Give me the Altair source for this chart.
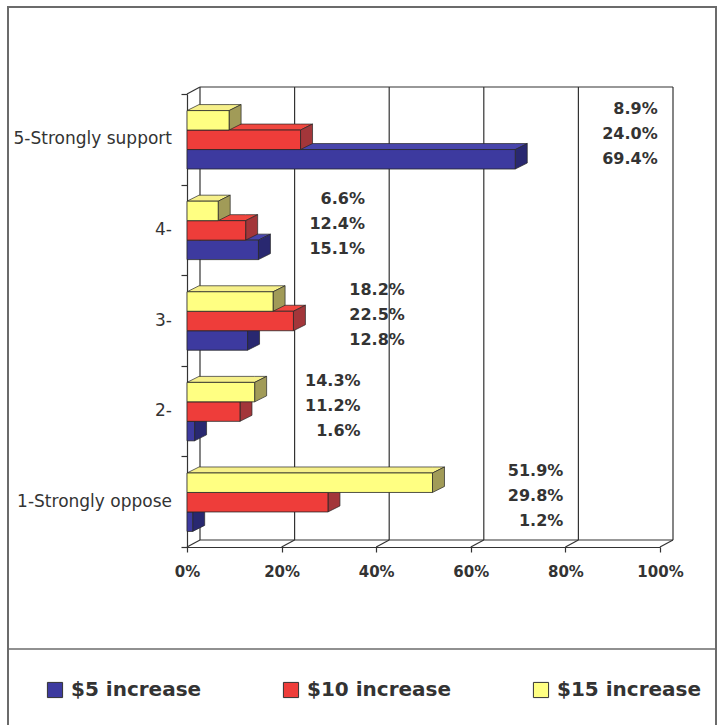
import json
import altair as alt
import pandas as pd

# ---------------- data ----------------
categories = ["5-Strongly support", "4-", "3-", "2-", "1-Strongly oppose"]
series = ["$5 increase", "$10 increase", "$15 increase"]
inc5 = [69.4, 15.1, 12.8, 1.6, 1.2]
inc10 = [24.0, 12.4, 22.5, 11.2, 29.8]
inc15 = [8.9, 6.6, 18.2, 14.3, 51.9]
x_ticks = [0, 20, 40, 60, 80, 100]

# ---------------- style ----------------
front_colors = ["#3D3A9F", "#EE3D3A", "#FFFF82"]
top_colors = ["#4845AC", "#F0473F", "#F6F08A"]
side_colors = ["#292870", "#A3363A", "#A19B58"]
EDGE = "#262626"
TXT = "#333333"
FONT = "DejaVu Sans"

W, H = 473, 453
DEPTH_PX_X, DEPTH_PX_Y = 12, 6      # bar depth
WALL_PX_X, WALL_PX_Y = 13, -7       # back wall offset
DX = DEPTH_PX_X * 100 / W           # depth in x units
DY = DEPTH_PX_Y * 5 / H             # depth in y units
BAR_BASE, BAR_FRAC = 0.172, 0.215
LABEL_SLOPE, LABEL_SHIFT = 1.14, 20.4
LABEL_MID, LABEL_STEP = 0.56, 0.276

rows = []
for ci, cat in enumerate(categories):
    for si, vals in enumerate([inc5, inc10, inc15]):
        rows.append({"category": cat, "k": len(categories) - 1 - ci, "s": si,
                     "series": series[si], "value": vals[ci], "bar": f"{ci}-{si}"})
df = pd.DataFrame(rows)
cat_df = pd.DataFrame({"category": categories,
                       "k": [len(categories) - 1 - i for i in range(len(categories))]})

xscale = alt.Scale(domain=[0, 100], nice=False)
yscale = alt.Scale(domain=[0, 5], nice=False)

X_AXIS = alt.Axis(values=x_ticks, labelExpr="datum.value + '%'", grid=False, title=None,
                  tickSize=5, tickColor=TXT, tickWidth=1.2, domainColor=TXT,
                  domainWidth=1.2, labelFont=FONT, labelFontSize=15, labelFlush=False,
                  labelFontWeight="bold", labelColor=TXT, labelPadding=12)
Y_AXIS = alt.Axis(values=[0, 1, 2, 3, 4, 5], labels=False, grid=False, title=None,
                  tickSize=6, tickColor=TXT, tickWidth=1.2, domainColor=TXT,
                  domainWidth=1.2)


def xq(field):
    return alt.X(field, scale=xscale, axis=X_AXIS)


def yq(field, **kw):
    return alt.Y(field, scale=yscale, axis=Y_AXIS, **kw)


# back wall & floor
tick_df = pd.DataFrame({"t": x_ticks})
wall_color = "#333333"
walls = alt.Chart(tick_df).transform_calculate(lo="0", hi="5", xmin="0", xmax="100")
back_grid = walls.mark_rule(color=wall_color, strokeWidth=1.2,
                            xOffset=WALL_PX_X, yOffset=WALL_PX_Y,
                            y2Offset=WALL_PX_Y).encode(
    x=xq("t:Q"), y=yq("lo:Q"), y2="hi:Q")
floor_diag = walls.mark_rule(color=wall_color, strokeWidth=1.2,
                             x2Offset=WALL_PX_X, y2Offset=WALL_PX_Y).encode(
    x=xq("t:Q"), x2="t:Q", y=yq("lo:Q"), y2="lo:Q")
top_diag = walls.transform_filter("datum.t == 0").mark_rule(
    color=wall_color, strokeWidth=1.2, x2Offset=WALL_PX_X, y2Offset=WALL_PX_Y).encode(
    x=xq("t:Q"), x2="t:Q", y=yq("hi:Q"), y2="hi:Q")
top_edge = walls.transform_filter("datum.t == 0").mark_rule(
    color=wall_color, strokeWidth=1.2, xOffset=WALL_PX_X, x2Offset=WALL_PX_X,
    yOffset=WALL_PX_Y).encode(
    x=xq("xmin:Q"), x2="xmax:Q", y=yq("hi:Q"))
floor_edge = walls.transform_filter("datum.t == 0").mark_rule(
    color=wall_color, strokeWidth=1.2, xOffset=WALL_PX_X, x2Offset=WALL_PX_X,
    yOffset=WALL_PX_Y).encode(
    x=xq("xmin:Q"), x2="xmax:Q", y=yq("lo:Q"))

base = alt.Chart(df).transform_calculate(
    bottom=f"datum.k + {BAR_BASE} + datum.s * {BAR_FRAC}",
    top=f"datum.k + {BAR_BASE} + (datum.s + 1) * {BAR_FRAC}",
    zero="0",
)

# top faces (parallelograms)
top_faces = base.transform_calculate(
    p0="0", p1=f"{DX}", p2="datum.value", p3=f"datum.value + {DX}",
    fillc=f"{json.dumps(top_colors)}[datum.s]",
).transform_fold(["p0", "p1", "p2", "p3"], as_=["corner", "pts"]).transform_calculate(
    ylow=f"datum.pts <= datum.value ? datum.top : datum.top + {DY} * (datum.pts - datum.value) / {DX}",
    yhigh=f"datum.pts >= {DX} ? datum.top + {DY} : datum.top + {DY} * datum.pts / {DX}",
).mark_area(stroke=EDGE, strokeWidth=0.7).encode(
    x=xq("pts:Q"),
    y=yq("ylow:Q", stack=None),
    y2="yhigh:Q",
    detail="bar:N",
    fill=alt.Fill("fillc:N", scale=None),
)

# side faces
side_faces = base.transform_calculate(
    p0="datum.value", p1=f"datum.value + {DX}",
    fillc=f"{json.dumps(side_colors)}[datum.s]",
).transform_fold(["p0", "p1"], as_=["corner", "pts"]).transform_calculate(
    ylow=f"datum.bottom + {DY} * (datum.pts - datum.value) / {DX}",
    yhigh=f"datum.top + {DY} * (datum.pts - datum.value) / {DX}",
).mark_area(stroke=EDGE, strokeWidth=0.7).encode(
    x=xq("pts:Q"),
    y=yq("ylow:Q", stack=None),
    y2="yhigh:Q",
    detail="bar:N",
    fill=alt.Fill("fillc:N", scale=None),
)

front = base.mark_rect(stroke=EDGE, strokeWidth=0.8).encode(
    x=xq("value:Q"),
    x2="zero:Q",
    y=yq("bottom:Q"),
    y2="top:Q",
    color=alt.Color("series:N", scale=alt.Scale(domain=series, range=front_colors),
                    legend=alt.Legend(title=None, orient="none", legendX=-142, legendY=586,
                                      direction="horizontal", columns=3, columnPadding=79,
                                      symbolType="square", symbolSize=230,
                                      symbolStrokeColor="#333", symbolStrokeWidth=1,
                                      labelFont=FONT, labelFontSize=20, labelFontWeight="bold",
                                      labelColor=TXT, labelOffset=6, padding=0)),
)

# category labels at band centres
cat_labels = alt.Chart(cat_df).transform_calculate(mid="datum.k + 0.5", zero="0").mark_text(
    align="right", baseline="middle", dx=-15, font=FONT, fontSize=17, color=TXT
).encode(
    x=xq("zero:Q"),
    y=yq("mid:Q"),
    text="category:N",
)

labels = base.transform_joinaggregate(maxv="max(value)", groupby=["category"]).transform_calculate(
    lx=f"datum.maxv * {LABEL_SLOPE} + {LABEL_SHIFT}",
    ly=f"datum.k + {LABEL_MID} + (datum.s - 1) * {LABEL_STEP}",
    txt="format(datum.value, '.1f') + '%'",
).mark_text(align="right", baseline="middle", font=FONT, fontSize=16,
            fontWeight="bold", color=TXT).encode(
    x=xq("lx:Q"),
    y=yq("ly:Q"),
    text="txt:N",
)

# outer frame and divider (chart chrome)
one = pd.DataFrame({"a": [0]})
frame = alt.Chart(one).mark_rect(fill="white", fillOpacity=0, stroke="#6b6b6b",
                                 strokeWidth=2).encode(
    x=alt.value(-179), x2=alt.value(529), y=alt.value(-87), y2=alt.value(640))
divider = alt.Chart(one).mark_rule(color="#6b6b6b", strokeWidth=1.5).encode(
    x=alt.value(-179), x2=alt.value(529), y=alt.value(555))

chart = alt.layer(
    back_grid, floor_diag, top_diag, top_edge, floor_edge,
    top_faces, side_faces, front, labels, cat_labels, frame, divider,
).properties(
    width=W, height=H,
    padding={"left": 187, "top": 94, "right": 58, "bottom": 178},
    autosize=alt.AutoSizeParams(type="none"),
    background="white",
).configure_view(stroke=None)

chart.save("out.html", embed_options={"renderer": "svg", "actions": False})
